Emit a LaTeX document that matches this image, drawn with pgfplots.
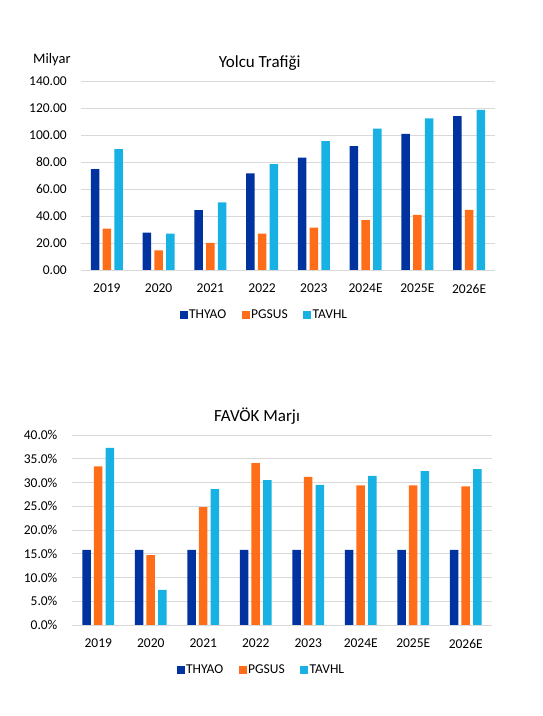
\documentclass[border=0pt]{standalone}
\usepackage{pgfplots}
\pgfplotsset{compat=1.18}
\usepackage{fontspec}
\setmainfont{Carlito}
\definecolor{thy}{RGB}{0,51,160}
\definecolor{pgs}{RGB}{255,109,24}
\definecolor{tav}{RGB}{23,178,227}
\definecolor{gridc}{RGB}{217,217,217}
\pgfplotsset{
 sqleg/.style={legend image code/.code={\fill[##1] (0pt,-4.15pt) rectangle (8.3pt,4.15pt);}},
 mybars/.style={
  scale only axis, anchor=south west,
  xmin=-0.5, xmax=7.5, ymin=0,
  ybar=3.2pt, bar width=8.5pt,
  xtick={0,...,7}, xticklabels={2019,2020,2021,2022,2023,2024E,2025E,2026E},
  axis line style={draw=none}, major tick length=0pt, tick style={draw=none},
  ymajorgrids, grid style={gridc, line width=0.9pt},
  tick label style={font=\fontsize{13.5}{16}\selectfont, inner sep=0pt},
  /pgf/number format/assume math mode=true,
  xticklabel style={anchor=north, yshift=-14pt},
  yticklabel style={anchor=east, xshift=-14pt},
  legend columns=3,
  legend style={draw=none, fill=none, font=\fontsize{13.5}{16}\selectfont, anchor=center,
    /tikz/every even column/.append style={column sep=14pt}, nodes={inner sep=1.3pt}},
 }
}
\begin{document}
\begin{tikzpicture}
\path (0,0) rectangle (543pt,716pt);
% Chart 1
\begin{axis}[mybars, at={(81pt,446pt)}, width=414pt, height=189pt,
  ymax=140, ytick={0,20,...,140},
  yticklabel={\pgfmathprintnumber[fixed,fixed zerofill,precision=2]{\tick}},
  legend style={at={(axis description cs:0.442,-0.238)}}]
\addplot[fill=thy, draw=none, sqleg] coordinates {(0,74.7) (1,27.6) (2,44.4) (3,71.5) (4,83.3) (5,91.7) (6,100.8) (7,113.9)};
\addplot[fill=pgs, draw=none, sqleg] coordinates {(0,30.6) (1,14.5) (2,20) (3,26.9) (4,31.3) (5,37) (6,40.9) (7,44.6)};
\addplot[fill=tav, draw=none, sqleg] coordinates {(0,89.5) (1,26.9) (2,50) (3,78.4) (4,95.4) (5,104.8) (6,112.4) (7,118.6)};
\legend{THYAO,PGSUS,TAVHL}
\end{axis}
\node[font=\fontsize{17}{20}\selectfont, anchor=base] at (259.7pt,648pt) {Yolcu Trafiği};
\node[font=\fontsize{14.5}{17}\selectfont, anchor=base west, inner sep=0pt] at (33pt,652.7pt) {Milyar};
% Chart 2
\begin{axis}[mybars, at={(72pt,91pt)}, width=420pt, height=190pt,
  ymax=40, ytick={0,5,...,40},
  yticklabel={\pgfmathprintnumber[fixed,fixed zerofill,precision=1]{\tick}\%},
  yticklabel style={xshift=-0.4pt},
  legend style={at={(axis description cs:0.45,-0.237)}}]
\addplot[fill=thy, draw=none, sqleg] coordinates {(0,15.8) (1,15.8) (2,15.8) (3,15.8) (4,15.8) (5,15.8) (6,15.8) (7,15.8)};
\addplot[fill=pgs, draw=none, sqleg] coordinates {(0,33.4) (1,14.7) (2,24.8) (3,34.1) (4,31.2) (5,29.4) (6,29.4) (7,29.2)};
\addplot[fill=tav, draw=none, sqleg] coordinates {(0,37.3) (1,7.4) (2,28.6) (3,30.5) (4,29.5) (5,31.4) (6,32.4) (7,32.8)};
\legend{THYAO,PGSUS,TAVHL}
\end{axis}
\node[font=\fontsize{17}{20}\selectfont, anchor=base] at (257pt,294pt) {FAVÖK Marjı};
\end{tikzpicture}
\end{document}
